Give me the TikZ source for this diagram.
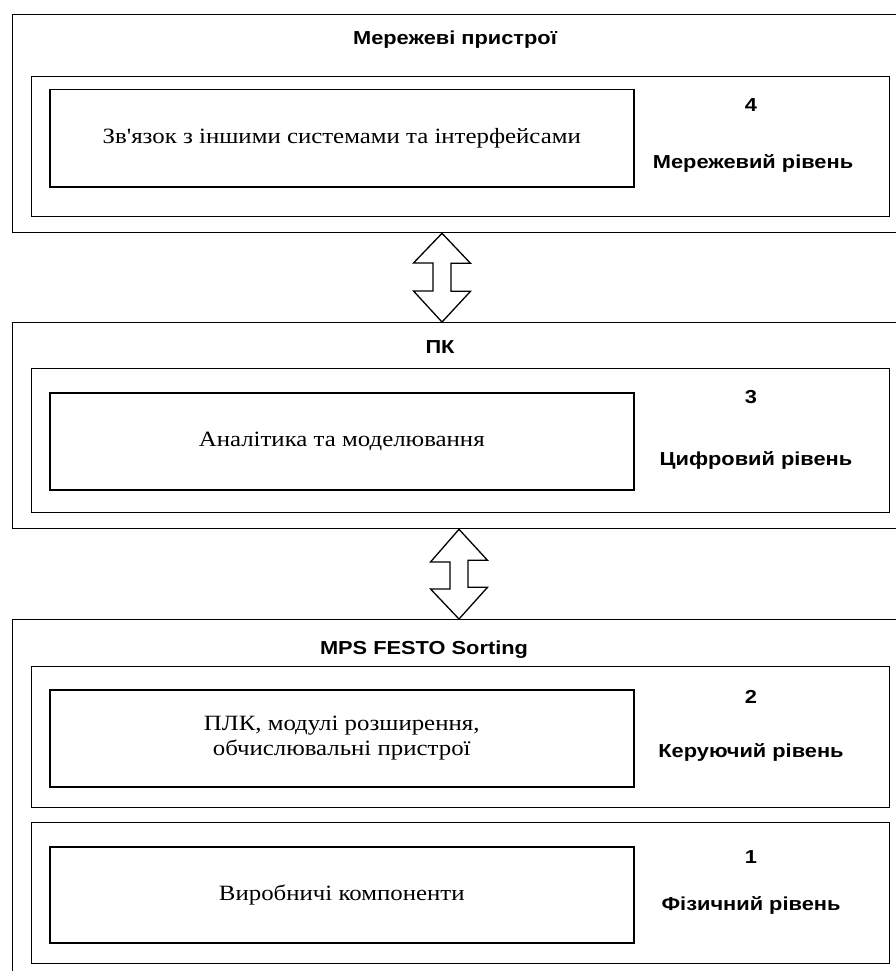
\documentclass[tikz,border=0pt]{standalone}
\usepackage{fontspec}
\setmainfont{Liberation Serif}
\newfontfamily\cserif[Ligatures=ResetAll,FakeStretch=1.14]{Liberation Serif}
\newfontfamily\csans[FakeStretch=1.16]{Liberation Sans}
\begin{document}
\begin{tikzpicture}[x=1pt,y=-1pt,
  box/.style={draw, line width=1.3pt, anchor=north west, inner sep=0pt},
  contentbox/.style={box, line width=1.5pt, font=\cserif\fontsize{21.8}{25.5}\selectfont, align=center},
  lbl/.style={font=\csans\bfseries\fontsize{18.8}{22}\selectfont, inner sep=0pt},
  dblarrow/.style={draw, line width=1.3pt, fill=white, line join=miter}
]
\useasboundingbox (0,0) rectangle (896,971);
\fill[white] (0,0) rectangle (896,971);
\begin{scope}
\clip (0,0) rectangle (896,971);
% Level 4
\node[box, minimum width=888pt, minimum height=218pt] (o1) at (12,14) {};
\node[box, minimum width=858pt, minimum height=140pt] (i1) at (31,76) {};
\node[contentbox, minimum width=584pt, minimum height=97pt] (c1) at (49,89) {Зв'язок з іншими системами та інтерфейсами};
\node[lbl] (t1) at (455,40) {Мережеві пристрої};
\node[lbl] (n4) at (751,105) {4};
\node[lbl] (l4) at (753,163) {Мережевий рівень};
% Level 3
\node[box, minimum width=888pt, minimum height=206pt] (o2) at (12,322) {};
\node[box, minimum width=858pt, minimum height=144pt] (i2) at (31,368) {};
\node[contentbox, minimum width=584pt, minimum height=97pt] (c2) at (49,392) {Аналітика та моделювання};
\node[lbl] (t2) at (440,347) {ПК};
\node[lbl] (n3) at (751,397) {3};
\node[lbl] (l3) at (756,460) {Цифровий рівень};
% Levels 2 and 1
\node[box, minimum width=888pt, minimum height=380pt] (o3) at (12,619) {};
\node[box, minimum width=858pt, minimum height=141pt] (i3) at (31,666) {};
\node[contentbox, minimum width=584pt, minimum height=97pt] (c3) at (49,689) {ПЛК, модулі розширення,\\обчислювальні пристрої};
\node[box, minimum width=858pt, minimum height=141pt] (i4) at (31,822) {};
\node[contentbox, minimum width=584pt, minimum height=96pt] (c4) at (49,846) {Виробничі компоненти};
\node[lbl] (t3) at (424,650) {MPS FESTO Sorting};
\node[lbl] (n2) at (751,697) {2};
\node[lbl] (l2) at (751,752) {Керуючий рівень};
\node[lbl] (n1) at (751,857) {1};
\node[lbl] (l1) at (751,905) {Фізичний рівень};
% Double arrows between blocks
\coordinate (ax1) at (442,0);
\coordinate (ax2) at (459,0);
\coordinate (a1t) at (ax1 |- o1.south);
\coordinate (a1b) at (ax1 |- o2.north);
\coordinate (a2t) at (ax2 |- o2.south);
\coordinate (a2b) at (ax2 |- o3.north);
\draw[dblarrow] (a1t) -- ++(28.5,30) -- ++(-19.5,0) -- ++(0,28) -- ++(19.5,0) -- (a1b)
  -- ++(-28.5,-31) -- ++(19.5,0) -- ++(0,-28) -- ++(-19.5,0) -- cycle;
\draw[dblarrow] (a2t) -- ++(28.5,31) -- ++(-19.5,0) -- ++(0,27) -- ++(19.5,0) -- (a2b)
  -- ++(-28.5,-30) -- ++(19.5,0) -- ++(0,-27) -- ++(-19.5,0) -- cycle;
\end{scope}
\end{tikzpicture}
\end{document}
